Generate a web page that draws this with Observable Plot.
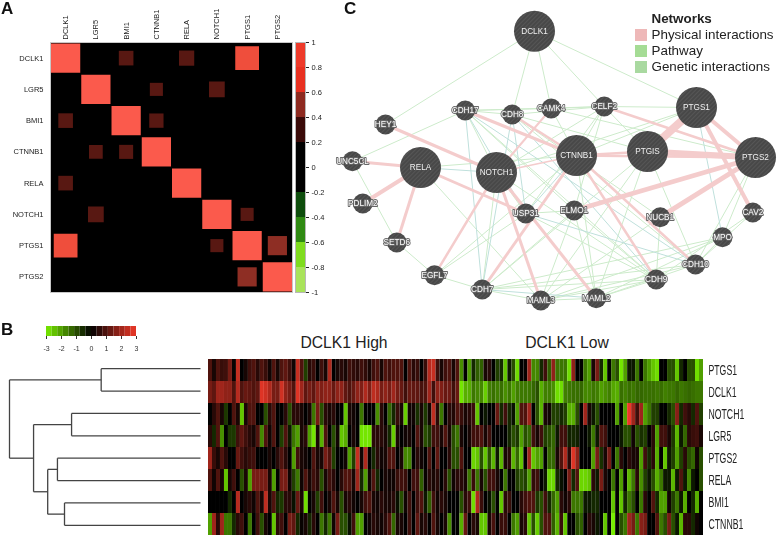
<!DOCTYPE html>
<html>
<head>
<meta charset="utf-8">
<script src="https://cdn.jsdelivr.net/npm/d3@7"></script>
<script src="https://cdn.jsdelivr.net/npm/@observablehq/plot@0.6"></script>
<style>
html,body{margin:0;padding:0;background:#fff;}
#page{position:relative;width:778px;height:538px;overflow:hidden;font-family:"Liberation Sans",Arial,sans-serif;}
.slot{position:absolute;will-change:transform;}
.slot svg{display:block;}
.letter{position:absolute;font-weight:bold;font-size:17px;line-height:17px;color:#111;}
.hm{position:absolute;font-size:15.7px;line-height:18px;color:#222;transform:translateX(-50%);white-space:nowrap;}
.lg{position:absolute;font-size:13.4px;line-height:16px;color:#222;white-space:nowrap;}
.sw{position:absolute;width:12px;height:12px;}
</style>
</head>
<body>
<div id="page">
<svg width="0" height="0" style="position:absolute"><defs>
<pattern id="hatch" width="3" height="3" patternUnits="userSpaceOnUse" patternTransform="rotate(45)">
<rect width="3" height="3" fill="#484848"></rect><rect width="1" height="3" fill="#565656"></rect>
</pattern></defs></svg>
</div>
<script>
// ---------- Panel A : correlation matrix ----------
const corrGenes = ["DCLK1","LGR5","BMI1","CTNNB1","RELA","NOTCH1","PTGS1","PTGS2"];
const corrDCLK1  = [1,0,.25,0,.27,0,.66,0];
const corrLGR5   = [0,1,0,.2,0,.29,0,0];
const corrBMI1   = [.25,0,1,.24,0,0,0,0];
const corrCTNNB1 = [0,.22,.23,1,0,0,0,0];
const corrRELA   = [.25,0,0,0,1,0,0,0];
const corrNOTCH1 = [0,.29,0,0,0,1,.2,0];
const corrPTGS1  = [.66,0,0,0,0,.2,1,.43];
const corrPTGS2  = [0,0,0,0,0,0,.43,1];
const corrThresholds = [-.8,-.6,-.4,-.2,.2,.4,.6,.8];
const corrColors = ["#a9e35a","#7fdc1e","#2f8a12","#0e4d0c","#000000","#581812","#8e2e24","#ef4e3c","#fb5a4c"];
const corrBarColors = ["#a9e35a","#7fdc1e","#2f8a12","#0e4d0c","#000000","#3a0a08","#8e2a20","#e83020","#ee3a2a"];
const corrBarStops = [-1,-.8,-.6,-.4,-.2,.2,.4,.6,.8,1];
const corrBarTicks = [-1,-.8,-.6,-.4,-.2,0,.2,.4,.6,.8,1];

// ---------- Panel B : expression heatmap ----------
const rowGenes = ["PTGS1","DCLK1","NOTCH1","LGR5","PTGS2","RELA","BMI1","CTNNB1"];
const exprPTGS1 = [1,.3,1,.7,.8,1.5,.1,2.5,0,.3,.8,1,.5,1,.7,.2,1,.3,1,1.2,.8,.2,
 2.5,1,-.8,.5,.7,0,.8,.3,2.2,0,.3,.5,.3,.8,.6,.5,.8,.6,.3,.8,1,.3,1,
 .8,1,1,1,0,1,.5,.7,0,.7,2.3,2.5,.8,.3,.8,1,.3,1,-1.8,0,-2,-.5,
 -1.2,-1.2,.3,.5,0,-.8,-.5,-2.5,-.3,-1,-2.8,0,.1,2,-1.7,-1.7,-.5,.8,-1.2,1.8,-1.5,-1.5,
 -1.5,-2.8,1.8,0,0,-1.5,-2,.3,1.5,-.5,-2.5,0,-1.5,-1,-2.9,-2,-.3,-.3,-1.5,0,-1.5,-2,
 -2.5,-2.8,0,0,-1,-1,-2.5,-.5,0,-1,-1,-2.8,-2];
const exprDCLK1 = [1.5,1.2,2,2,1.8,1.8,1,2.3,1,1.3,1.2,1,1.2,2.8,2.6,2.2,1.5,1.5,2.6,1.8,1.5,1,
 2.8,2,1.2,1.5,1.2,1.8,1.6,1.8,1.8,1.3,1.8,1.8,1.2,1,1.3,1.8,1.6,2.2,1.6,2.4,2.2,1.5,1.8,
 1.5,2,1.5,1.3,.8,1.3,1.2,1.2,.9,1,2,.8,1.8,1.6,1.3,1.4,.8,1.3,-2.9,-2.2,-2.2,-1.5,
 -1.7,-1.7,-2.6,-1.6,-1.4,-1.6,-1.4,-1.8,-1.5,-2,-1.6,-1.5,-1.5,-1.5,-1.3,-1,-2.2,-1.6,-1.6,-1.8,-2.8,-2.8,
 -1.6,-1.5,-1.4,-1.4,-1.3,-1.7,-1.7,-1.5,-1.6,-2,-1.8,-1.6,-2.1,-2.2,-1.4,-1.6,-1.4,-1.5,-1.3,-1.3,-1.4,-1.4,
 -1.4,-1.5,-1.4,-1.6,-1.5,-1.5,-1.3,-1.5,-1.4,-1.3,-1.4,-1.5,-1.5];
const exprNOTCH1 = [0,.5,1,.3,-.7,0,1,.3,-2.5,.3,1,1,0,0,-1,.5,1,0,0,.5,-1,.5,
 .5,.3,0,.3,-1.5,1.5,-1,.5,.3,.5,0,0,-2.5,.3,.2,0,-1.5,0,0,0,-1.8,.5,0,
 -1.3,-.5,.7,.3,-2.6,.2,.2,-.6,.3,-.7,.2,2.4,.5,-1.5,0,.5,.4,1,.7,.3,.5,.7,
 -2.5,0,-.3,0,0,1.3,-.5,.8,-.5,-.2,-2,1,1,2,0,-1,-2.3,.3,.2,-.8,-.8,-.5,
 -.8,-2.2,-2.2,-1,0,2,.3,-.3,-1,0,0,0,0,-2,0,-2,3,2,.8,2,-2,-1.5,
 -.8,-.8,0,0,-.5,-1,1.7,-.5,.8,.5,-.5,1,-.8];
const exprLGR5 = [.5,-.5,1,-1.8,0,-.7,-.7,.8,1.2,.8,.5,.3,1,-1.7,1,.2,1,0,-.8,1,-.3,-1.5,
 -2,.3,.5,-2,-2.9,.3,-2.2,1,0,-1,.2,-2.5,-2.2,0,.3,0,-2.9,-2.9,-2.9,.5,.5,.5,.3,
 -.5,-2.6,.3,0,.2,.3,0,1,.3,-1,-.7,.8,.8,.3,1,.3,-1,-1.5,.3,0,.3,.8,
 .8,1,.3,.8,0,0,0,0,-.5,-1,-.7,-2,-1,-1.3,.8,.3,.8,-.8,-1,-1.3,-.3,.8,
 .8,-.4,-.5,-.4,0,0,-.3,-1.5,-.3,1,.8,0,0,0,-.3,-1,-1,.2,-1,-.6,-.8,0,
 .5,-2,.8,.8,.3,-.7,-2.3,-.3,-1.3,.5,.7,.8,.3];
const exprPTGS2 = [2,.7,.3,1,.5,0,0,1.3,.8,.5,.7,.8,0,0,0,.3,0,.5,1,.5,0,-2,
 .8,.3,.2,0,1,.3,.3,1.5,1,-.8,0,0,.2,-2,-.8,2.5,.2,2.2,0,-.5,.5,.2,.3,
 1,1,0,.3,-1.7,-1.7,0,.5,.2,0,1,0,1.2,0,0,.5,-1,-1,1,0,0,-2.7,
 -2.5,-1,-2.5,-1,-2.3,-.3,-2.3,.3,.5,-2.3,-1.3,-2.5,0,2,-2.5,-2,-2,0,-1.3,-1.3,.3,1,
 2.2,.5,2.8,1.8,0,0,0,-2,1.5,-.6,.3,1.5,0,-1.5,.5,0,.5,.3,.3,-2,.8,-.5,
 .5,-2.2,0,-2.5,-.3,-.8,-2,-.8,.5,-1,-1.3,.2,-1];
const exprRELA = [1,.2,1,.3,-2.5,.3,.8,0,-1,.3,-2,1.5,1.5,1.5,1.5,.3,-2,0,1.5,1.5,.2,-.8,
 -1.5,.2,1,.3,.8,.5,-1,.3,.8,.5,0,.5,1,1,.3,2,-.5,-2,.2,1,-.5,0,.3,
 .2,.2,.7,.8,.7,0,.8,.8,-1.2,.1,.5,.3,.5,0,.5,-1,.2,.5,.5,.3,-1.5,.7,
 -1.5,.3,-1,.8,.8,.3,0,-1.5,0,0,-.8,-1,-.8,-2,.6,.8,0,-.3,-2.7,-2.7,-.5,-.2,
 0,1.5,-.5,1,-2.7,-2.7,-2.5,.5,-.3,1.5,.3,0,-1.5,0,-2,0,-2.3,-1.5,.5,-1.8,-.8,-.3,
 -1,-2.2,-1.5,-.3,-.3,-2.3,-.3,1,-.3,-1.7,-.3,0,-1];
const exprBMI1 = [0,0,0,0,0,-.5,0,2.3,0,.3,.5,.2,1,.3,2.4,.3,1,-.5,-.7,.5,.5,-.2,
 1.3,.3,-2.8,0,.3,-.8,.8,0,.3,1,.3,-1,.3,.5,.2,0,.3,.8,1,.3,.2,.5,.3,
 .3,.5,-.2,-1,.2,.8,0,.8,1,-.3,-1.2,.8,.2,.5,.3,0,0,0,-1,.5,.8,-2.8,
 2.2,.7,0,-.2,-1,0,-2.5,.5,.7,0,0,.5,.8,1,1,-.7,-1,.8,-.5,-1.3,-2,.5,
 .2,.5,-1.5,-1.5,-1.5,-.3,-.3,-.5,-.5,0,0,0,-2.5,0,-2.5,-.5,-1.5,-1,0,-1.5,.5,0,
 1,-.5,-2,-2,.2,-.8,-1.5,-.3,-2.2,0,-.5,-2.2,0];
const exprCTNNB1 = [-2,2,.5,2,-1.5,-1.5,-.5,.5,.8,0,-1.5,0,.8,-1,.3,0,-2.5,.5,.8,0,1.5,1.2,
 -.5,.1,.3,-.5,.5,0,-1.5,-.5,-1.5,.2,1.5,-1,-1,-.2,.8,-2,-2,0,.2,.5,.3,.2,.5,
 1,-1.3,.3,.3,0,.8,0,1.2,.3,.5,0,1,.3,0,.3,-1.8,0,0,-2.2,1.3,0,.5,
 .3,-2.5,-2.5,.3,.9,0,.7,.7,0,-1.5,-2,.3,.5,-2.5,-1,-2.6,-1,1,1,-1.2,-2.3,.7,
 -2.5,0,0,-1,-1.2,0,.5,.3,-.3,0,-2.5,0,-3,0,-1,-1.5,2,1.5,-1.5,1.7,1.5,0,
 0,1,-1.5,-1,1.5,-1,-.3,-2.3,.5,.5,-.5,.2,0];
const exprKeyTicks = [-3,-2,-1,0,1,2,3];
const exprKeySteps = [-3,-2.625,-2.25,-1.875,-1.5,-1.125,-.75,-.375,0,.375,.75,1.125,1.5,1.875,2.25,2.625,3];
const exprDomain = [-3,0,3];
const exprColors = ["#78ee00","#000000","#ee3828"];
const groupLabels = ["DCLK1 High","DCLK1 Low"];

// dendrogram merges: children (leaf = row index, 8+ = earlier merge) and merge height
const mergeLeft   = [0,2,4,6,10,9,8];
const mergeRight  = [1,3,5,7,11,12,13];
const mergeHeight = [.52,.675,.749,.712,.80,.874,1];

// ---------- Panel C : gene network ----------
const queryNames = ["DCLK1","PTGS1","PTGIS","PTGS2","CTNNB1","NOTCH1","RELA"];
const queryX = [534,696,647,755,576,496,420];
const queryY = [30.7,107,151,157,155,172,167];
const relatedNames = ["CDH17","CDH8","CAMK4","CELF2","HEY1","UNC5CL","PDLIM2","SETD6","EGFL7","CDH7","MAML3","MAML2","CDH9","CDH10","MPO","CAV2","NUCB1","ELMO1","USP31"];
const relatedX = [464.7,511.7,550.7,603.7,385,352,362.3,396.3,434,481.7,540.3,595.7,655.7,695,722,752.3,659.7,573.7,525.3];
const relatedY = [110,114,108,106,124,160.7,203,242,274.7,289,300,297.7,279,264,236.7,212,216.7,210,213];
const physicalEdges = [["PTGS1","PTGIS",8],["PTGIS","PTGS2",6],["PTGS1","PTGS2",4],["PTGS1","CAV2",4],["PTGS2","NUCB1",5],["PTGS2","ELMO1",4.5],["PTGS2","CELF2",2.5],["CTNNB1","PTGS2",2.5],["CTNNB1","PTGIS",2.5],["CTNNB1","CDH17",3],["CTNNB1","CDH8",2.5],["CTNNB1","CDH7",3],["CTNNB1","CDH10",2.5],["CTNNB1","CDH9",2.5],["CTNNB1","NOTCH1",1.5],["NOTCH1","HEY1",3],["NOTCH1","CAMK4",2],["NOTCH1","EGFL7",2.5],["NOTCH1","MAML3",3],["NOTCH1","MAML2",3],["RELA","UNC5CL",3],["RELA","PDLIM2",4],["RELA","SETD6",3],["RELA","USP31",3]];
const pathwayEdges = [["DCLK1","HEY1"],["DCLK1","CDH8"],["DCLK1","CAMK4"],["DCLK1","CELF2"],["DCLK1","PTGS1"],["UNC5CL","CDH17"],["UNC5CL","SETD6"],["SETD6","EGFL7"],["EGFL7","CDH7"],["CDH7","MAML3"],["MAML3","MAML2"],["MAML2","CDH9"],["CDH17","CDH8"],["CDH17","CAMK4"],["CDH17","CELF2"],["CDH8","CELF2"],["CAMK4","CELF2"],["RELA","CTNNB1"],["RELA","MAML3"],["CDH17","NOTCH1"],["CDH17","CTNNB1"],["CDH17","ELMO1"],["CDH17","CDH9"],["CDH8","CTNNB1"],["CDH8","NUCB1"],["CDH8","CDH10"],["CDH8","PTGIS"],["CAMK4","CTNNB1"],["CAMK4","PTGS2"],["CELF2","CTNNB1"],["CELF2","NOTCH1"],["CELF2","USP31"],["CELF2","PTGIS"],["CELF2","PTGS1"],["CELF2","ELMO1"],["PTGS1","CTNNB1"],["PTGS1","NOTCH1"],["PTGIS","CDH7"],["PTGIS","MAML3"],["PTGIS","CDH10"],["PTGS2","CDH10"],["PTGS2","MPO"],["NOTCH1","CDH7"],["NOTCH1","USP31"],["NOTCH1","CDH9"],["USP31","ELMO1"],["USP31","CDH9"],["ELMO1","MAML3"],["ELMO1","CDH7"],["ELMO1","MAML2"],["ELMO1","CDH9"],["EGFL7","CTNNB1"],["EGFL7","USP31"],["CDH7","CDH9"],["CDH7","CDH10"],["CDH7","MPO"],["MAML3","CDH9"],["MAML3","CDH10"],["MAML3","MPO"],["MAML3","NUCB1"],["MAML2","CDH10"],["MAML2","MPO"],["MAML2","CTNNB1"],["MAML2","PTGIS"],["CDH9","CAV2"],["CDH10","MPO"],["CDH10","CAV2"],["CDH9","NUCB1"]];
const geneticEdges = [["CDH17","CDH7"],["CDH17","USP31"],["RELA","NOTCH1"],["CDH8","USP31"],["CTNNB1","USP31"],["CDH17","CDH10"],["CDH8","CDH9"],["CTNNB1","CDH9"],["PTGS1","MPO"],["USP31","CDH10"],["CDH7","MAML2"],["CDH8","CDH7"]];
const legendTitle = "Networks";
const legendLabels = ["Physical interactions","Pathway","Genetic interactions"];
const legendColors = ["#eeb8b8","#a5dc95","#a9d9a0"];

// ---------- build ----------
const page = document.getElementById("page");
const FONT = '"Liberation Sans",Arial,sans-serif';
function place(node,left,top){const d=document.createElement("div");d.className="slot";d.style.left=left+"px";d.style.top=top+"px";d.appendChild(node);page.appendChild(d);return node;}
function html(cls,text,left,top,css){const d=document.createElement("div");d.className=cls;d.textContent=text;d.style.left=left+"px";d.style.top=top+"px";if(css)d.style.cssText+=css;page.appendChild(d);}

// Panel A matrix
const corrRows = [corrDCLK1,corrLGR5,corrBMI1,corrCTNNB1,corrRELA,corrNOTCH1,corrPTGS1,corrPTGS2];
const corrCells = corrRows.flatMap((row,i)=>row.map((v,j)=>({row:corrGenes[i],col:corrGenes[j],v})));
place(Plot.plot({
  width:296,height:294,marginLeft:50,marginTop:42,marginRight:4,marginBottom:2,
  style:{background:"transparent",fontFamily:FONT,color:"#222"},
  x:{type:"band",domain:corrGenes,padding:0,round:false,label:null},
  y:{type:"band",domain:corrGenes,padding:0,round:false,label:null},
  r:{type:"sqrt",domain:[0,1],range:[0,16.5]},
  color:{type:"threshold",domain:corrThresholds,range:corrColors},
  marks:[
    Plot.frame({fill:"#000",stroke:"#c8c8c8"}),
    Plot.dot(corrCells.filter(d=>d.v!==0),{x:"col",y:"row",r:"v",fill:"v",symbol:"square",stroke:null}),
    Plot.axisX({anchor:"top",tickSize:0,tickRotate:-90,tickPadding:3,fontSize:7.5,label:null}),
    Plot.axisY({anchor:"left",tickSize:0,tickPadding:7,fontSize:7.5,label:null})
  ]
}),0,0);

// Panel A colour bar
const corrBar = corrBarStops.slice(0,-1).map((lo,i)=>({lo,hi:corrBarStops[i+1]}));
place(Plot.plot({
  width:40,height:300,marginLeft:0,marginTop:42,marginRight:30,marginBottom:8,
  style:{background:"transparent",fontFamily:FONT,color:"#222",overflow:"visible"},
  y:{domain:[-1,1],label:null},
  color:{type:"threshold",domain:corrThresholds,range:corrBarColors},
  marks:[
    Plot.rect(corrBar,{y1:"lo",y2:"hi",fill:d=>(d.lo+d.hi)/2}),
    Plot.frame({stroke:"#b8b8b8"}),
    Plot.axisY({anchor:"right",ticks:corrBarTicks,tickFormat:d=>String(d),tickSize:3,tickPadding:3,fontSize:7.5,label:null})
  ]
}),295,0);

// Panel B colour key
const keyCells = exprKeySteps.slice(0,-1).map((lo,i)=>({lo,hi:exprKeySteps[i+1]}));
place(Plot.plot({
  width:110,height:36,marginLeft:10,marginRight:10,marginTop:1,marginBottom:25,
  style:{background:"transparent",fontFamily:FONT,color:"#333"},
  x:{domain:[-3,3],label:null},
  color:{type:"linear",domain:exprDomain,range:exprColors},
  marks:[
    Plot.rect(keyCells,{x1:"lo",x2:"hi",fill:d=>(d.lo+d.hi)/2}),
    Plot.axisX({ticks:exprKeyTicks,tickSize:3,tickPadding:7,fontSize:7,label:null,tickFormat:d=>String(d)})
  ]
}),36,325);

// Panel B dendrogram
const treeY = {}; for(let i=0;i<8;i++) treeY[i]=i;
const treeH = {}; for(let i=0;i<8;i++) treeH[i]=0;
const treeSegs = [];
mergeLeft.forEach((l,i)=>{
  const r=mergeRight[i],h=mergeHeight[i],id=8+i;
  treeY[id]=(treeY[l]+treeY[r])/2; treeH[id]=h;
  treeSegs.push({x1:treeH[l],x2:h,y1:treeY[l],y2:treeY[l]},{x1:treeH[r],x2:h,y1:treeY[r],y2:treeY[r]},{x1:h,x2:h,y1:treeY[l],y2:treeY[r]});
});
place(Plot.plot({
  width:206,height:179,marginLeft:9,marginRight:6,marginTop:0,marginBottom:0,
  style:{background:"transparent"},
  x:{domain:[1,0],axis:null},
  y:{domain:[7.5,-.5],axis:null},
  marks:[Plot.link(treeSegs,{x1:"x1",x2:"x2",y1:"y1",y2:"y2",stroke:"#444",strokeWidth:1.3,curve:"linear"})]
}),0,357);

// Panel B heatmap
const exprRows = [exprPTGS1,exprDCLK1,exprNOTCH1,exprLGR5,exprPTGS2,exprRELA,exprBMI1,exprCTNNB1];
const exprCells = exprRows.flatMap((row,i)=>row.map((v,c)=>({gene:rowGenes[i],c,v})));
const heat = place(Plot.plot({
  width:570,height:179,marginLeft:0,marginRight:75,marginTop:0,marginBottom:0,
  style:{background:"transparent",fontFamily:FONT,color:"#222"},
  x:{type:"band",domain:d3.range(exprPTGS1.length),padding:0,round:false,axis:null},
  y:{domain:rowGenes,padding:0,label:null},
  color:{type:"linear",domain:exprDomain,range:exprColors},
  marks:[
    Plot.cell(exprCells,{x:"c",y:"gene",fill:"v",inset:0}),
    Plot.axisY({anchor:"right",tickSize:0,tickPadding:5,fontSize:14.5,label:null})
  ]
}),208,357);
// the reference's row labels are horizontally squeezed
d3.select(heat).selectAll("text").each(function(){
  this.setAttribute("lengthAdjust","spacingAndGlyphs");
  this.setAttribute("textLength",this.getComputedTextLength()*.6);
});
html("hm",groupLabels[0],344,334);
html("hm",groupLabels[1],567,334);

// Panel C network
const nodes = new Map();
queryNames.forEach((n,i)=>nodes.set(n,{name:n,x:queryX[i],y:queryY[i]}));
relatedNames.forEach((n,i)=>nodes.set(n,{name:n,x:relatedX[i],y:relatedY[i]}));
const toLink = e=>({x1:nodes.get(e[0]).x,y1:nodes.get(e[0]).y,x2:nodes.get(e[1]).x,y2:nodes.get(e[1]).y,w:e[2]});
const queryNodes = queryNames.map(n=>nodes.get(n));
const relatedNodes = relatedNames.map(n=>nodes.get(n));
const linkOpts = {x1:"x1",y1:"y1",x2:"x2",y2:"y2",curve:"linear"};
place(Plot.plot({
  width:448,height:315,margin:0,
  style:{background:"transparent",fontFamily:FONT},
  x:{domain:[330,778],axis:null},
  y:{domain:[315,0],axis:null},
  marks:[
    Plot.link(pathwayEdges.map(toLink),{...linkOpts,stroke:"#cdebcb",strokeWidth:1}),
    Plot.link(geneticEdges.map(toLink),{...linkOpts,stroke:"#bfe0dc",strokeWidth:1}),
    Plot.link(physicalEdges.map(toLink),{...linkOpts,stroke:"#f4cccc",strokeWidth:"w"}),
    Plot.dot(queryNodes,{x:"x",y:"y",r:20.5,fill:"url(#hatch)",stroke:null}),
    Plot.dot(relatedNodes,{x:"x",y:"y",r:10,fill:"url(#hatch)",stroke:null}),
    Plot.text(queryNodes,{x:"x",y:"y",text:"name",fill:"#f0f0f0",fontSize:8.2}),
    Plot.text(relatedNodes,{x:"x",y:"y",text:"name",fill:"#fff",stroke:"#666",strokeWidth:1.8,fontSize:8.2})
  ]
}),330,0);

// Panel C legend
html("lg",legendTitle,651.5,11,"font-weight:bold;");
legendLabels.forEach((t,i)=>{
  const top=[27,42.5,59][i];
  html("lg",t,651.5,top);
  const s=document.createElement("div");s.className="sw";s.style.left="635px";s.style.top=(top+2)+"px";s.style.background=legendColors[i];page.appendChild(s);
});

// panel letters
html("letter","A",1,0);
html("letter","B",1,321);
html("letter","C",344,0);
</script>
</body>
</html>
